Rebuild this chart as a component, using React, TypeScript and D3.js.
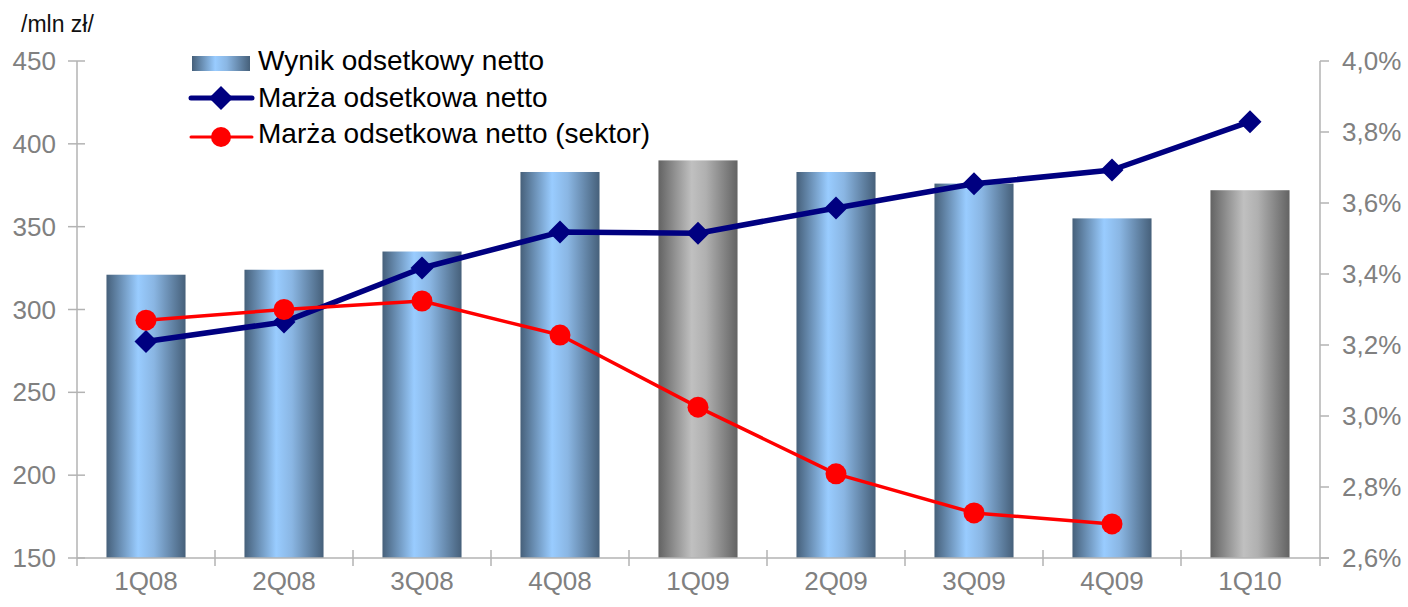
import React from "react";
import * as d3 from "d3";

const categories = ["1Q08", "2Q08", "3Q08", "4Q08", "1Q09", "2Q09", "3Q09", "4Q09", "1Q10"];
const wynik = [321, 324, 335, 383, 390, 383, 376, 355, 372];
const grayBars = [false, false, false, false, true, false, false, false, true];
const marza = [3.21, 3.265, 3.417, 3.518, 3.515, 3.586, 3.654, 3.693, 3.829];
const marzaSektor = [3.27, 3.30, 3.324, 3.228, 3.025, 2.837, 2.727, 2.696];
const leftTicks = [150, 200, 250, 300, 350, 400, 450];
const rightTicks = [2.6, 2.8, 3.0, 3.2, 3.4, 3.6, 3.8, 4.0];

const W = 1408, H = 607;
const X0 = 77, X1 = 1319, Y0 = 61, Y1 = 558;
const FONT = "'Liberation Sans', Arial, sans-serif";
const AX = "#b3b3b3";
const LBL = "#808080";

export default function App() {
  const x = d3.scaleBand<string>().domain(categories).range([X0, X1]).paddingInner(0.427).paddingOuter(0.2135);
  const yL = d3.scaleLinear().domain([150, 450]).range([Y1, Y0]);
  const yR = d3.scaleLinear().domain([2.6, 4.0]).range([Y1, Y0]);
  const step = x.step();
  const cx = (c: string) => (x(c) as number) + x.bandwidth() / 2;

  const line = d3.line<[number, number]>().x(d => d[0]).y(d => d[1]);
  const navyPts: [number, number][] = marza.map((v, i) => [cx(categories[i]), yR(v)]);
  const redPts: [number, number][] = marzaSektor.map((v, i) => [cx(categories[i]), yR(v)]);
  const diamond = (px: number, py: number, r: number) =>
    `M${px},${py - r}L${px + r},${py}L${px},${py + r}L${px - r},${py}Z`;

  return (
    <svg width={W} height={H} style={{ position: "absolute", left: 0, top: 0, fontFamily: FONT }}>
      <defs>
        <linearGradient id="gBlue" x1="0" x2="1" y1="0" y2="0">
          <stop offset="0" stopColor="#46607a" />
          <stop offset="0.4" stopColor="#99ccff" />
          <stop offset="0.6" stopColor="#8ab6e3" />
          <stop offset="1" stopColor="#46607a" />
        </linearGradient>
        <linearGradient id="gGray" x1="0" x2="1" y1="0" y2="0">
          <stop offset="0" stopColor="#636363" />
          <stop offset="0.42" stopColor="#c0c0c0" />
          <stop offset="0.6" stopColor="#b0b0b0" />
          <stop offset="1" stopColor="#636363" />
        </linearGradient>
      </defs>
      <rect width={W} height={H} fill="#fff" />

      {/* bars */}
      {categories.map((c, i) => (
        <rect key={c} x={x(c)} y={yL(wynik[i])} width={x.bandwidth()} height={Y1 - yL(wynik[i])}
          fill={grayBars[i] ? "url(#gGray)" : "url(#gBlue)"} />
      ))}

      {/* left axis */}
      <line x1={X0} x2={X0} y1={Y0} y2={Y1 + 8} stroke={AX} strokeWidth={1.5} />
      {leftTicks.map(t => (
        <g key={t}>
          <line x1={X0 - 9} x2={X0 + 8} y1={yL(t)} y2={yL(t)} stroke={AX} strokeWidth={1.5} />
          <text x={56} y={yL(t)} dy="0.35em" textAnchor="end" fontSize={26} fill={LBL}>{t}</text>
        </g>
      ))}

      {/* right axis */}
      <line x1={X1 + 1} x2={X1 + 1} y1={Y0} y2={Y1 + 8} stroke={AX} strokeWidth={1.5} />
      {rightTicks.map(t => (
        <g key={t}>
          <line x1={X1 + 1} x2={X1 + 10} y1={yR(t)} y2={yR(t)} stroke={AX} strokeWidth={1.5} />
          <text x={1342} y={yR(t)} dy="0.35em" textAnchor="start" fontSize={26} fill={LBL}>
            {t.toFixed(1).replace(".", ",") + "%"}
          </text>
        </g>
      ))}

      {/* x axis */}
      <line x1={X0} x2={X1 + 10} y1={Y1} y2={Y1} stroke={AX} strokeWidth={1.5} />
      {categories.slice(1).map(c => (
        <line key={c} x1={(x(c) as number) - (step - x.bandwidth()) / 2} x2={(x(c) as number) - (step - x.bandwidth()) / 2}
          y1={Y1 - 8} y2={Y1 + 8} stroke={AX} strokeWidth={1.5} />
      ))}
      {categories.map(c => (
        <text key={c} x={cx(c)} y={590} textAnchor="middle" fontSize={26} fill={LBL}>{c}</text>
      ))}

      {/* lines */}
      <path d={line(navyPts) || ""} fill="none" stroke="#000080" strokeWidth={5.5} strokeLinejoin="round" />
      {navyPts.map((p, i) => <path key={i} d={diamond(p[0], p[1], 11.5)} fill="#000080" />)}
      <path d={line(redPts) || ""} fill="none" stroke="#ff0000" strokeWidth={3.5} strokeLinejoin="round" />
      {redPts.map((p, i) => <circle key={i} cx={p[0]} cy={p[1]} r={10.5} fill="#ff0000" />)}

      {/* unit label */}
      <text x={21} y={32} fontSize={23} fill="#111">/mln zł/</text>

      {/* legend */}
      <rect x={192} y={56} width={58} height={15} fill="url(#gBlue)" />
      <text x={258} y={70} fontSize={28} fill="#000">Wynik odsetkowy netto</text>
      <line x1={191} x2={252} y1={98} y2={98} stroke="#000080" strokeWidth={5} strokeLinecap="round" />
      <path d={diamond(221, 98, 12)} fill="#000080" />
      <text x={258} y={107} fontSize={28} fill="#000">Marża odsetkowa netto</text>
      <line x1={191} x2={252} y1={137} y2={137} stroke="#ff0000" strokeWidth={3} strokeLinecap="round" />
      <circle cx={221} cy={137} r={10} fill="#ff0000" />
      <text x={258} y={143} fontSize={28} fill="#000">Marża odsetkowa netto (sektor)</text>
    </svg>
  );
}
